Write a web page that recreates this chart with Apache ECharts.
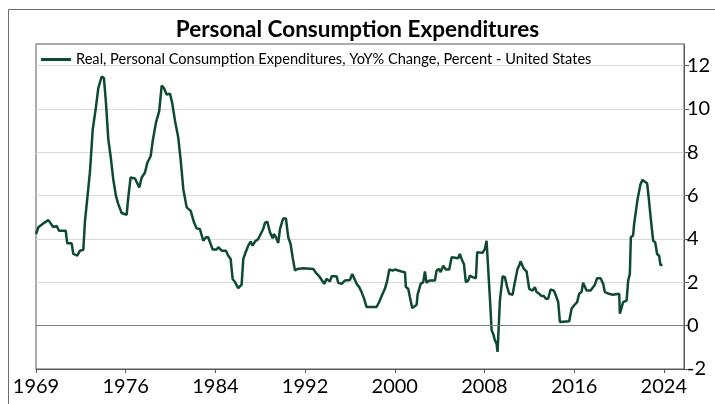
<!DOCTYPE html>
<html>
<head>
<meta charset="utf-8">
<script src="https://cdn.jsdelivr.net/npm/echarts@6/dist/echarts.min.js"></script>
<style>
  html, body { margin: 0; padding: 0; background: #fff; }
  #chart { width: 715px; height: 404px; }
</style>
</head>
<body>
<div id="chart"></div>
<script>
// x position in years (as placed on the axis), y = YoY % change
const dates = [
  1968.00, 1968.21, 1968.65, 1969.10, 1969.54, 1969.85, 1970.05, 1970.65, 1970.79, 1971.18,
  1971.33, 1971.68, 1971.92, 1972.22, 1972.37, 1972.57, 1972.82, 1973.06, 1973.32, 1973.56,
  1973.86, 1974.06, 1974.24, 1974.45, 1974.69, 1974.89, 1975.13, 1975.34, 1975.64, 1976.09,
  1976.23, 1976.44, 1976.83, 1977.21, 1977.43, 1977.72, 1977.93, 1978.23, 1978.41, 1978.70,
  1978.99, 1979.21, 1979.41, 1979.65, 1979.95, 1980.15, 1980.40, 1980.69, 1980.90, 1981.14,
  1981.44, 1981.80, 1982.09, 1982.33, 1982.62, 1982.92, 1983.16, 1983.36, 1983.52, 1983.76,
  1984.11, 1984.26, 1984.56, 1984.94, 1985.15, 1985.36, 1985.54, 1985.75, 1986.04, 1986.34,
  1986.49, 1986.70, 1986.93, 1987.15, 1987.32, 1987.53, 1987.82, 1988.04, 1988.27, 1988.42,
  1988.63, 1988.87, 1989.11, 1989.22, 1989.40, 1989.61, 1989.76, 1989.91, 1990.05, 1990.29,
  1990.50, 1990.71, 1990.89, 1991.10, 1991.30, 1991.84, 1992.73, 1992.97, 1993.26, 1993.57,
  1993.71, 1993.92, 1994.22, 1994.37, 1994.81, 1994.96, 1995.26, 1995.55, 1996.00, 1996.21,
  1996.36, 1996.60, 1996.83, 1997.04, 1997.25, 1997.49, 1998.38, 1998.61, 1998.83, 1999.12,
  1999.33, 1999.51, 1999.81, 2000.01, 2000.16, 2000.61, 2000.91, 2000.99, 2001.20, 2001.35,
  2001.56, 2001.95, 2002.04, 2002.31, 2002.54, 2002.69, 2002.84, 2003.07, 2003.58, 2003.73,
  2003.96, 2004.09, 2004.32, 2004.56, 2004.86, 2005.07, 2005.66, 2005.81, 2005.96, 2006.17,
  2006.34, 2006.55, 2006.70, 2006.94, 2007.24, 2007.35, 2007.83, 2008.04, 2008.19, 2008.33,
  2008.49, 2008.64, 2008.78, 2008.93, 2009.08, 2009.17, 2009.29, 2009.38, 2009.44, 2009.62,
  2009.82, 2010.03, 2010.21, 2010.51, 2010.63, 2010.80, 2010.95, 2011.10, 2011.22, 2011.37,
  2011.52, 2011.76, 2011.99, 2012.29, 2012.50, 2012.65, 2012.88, 2013.10, 2013.30, 2013.48,
  2013.68, 2013.90, 2014.19, 2014.37, 2014.58, 2014.73, 2015.56, 2015.77, 2015.98, 2016.27,
  2016.45, 2016.66, 2016.80, 2016.96, 2017.11, 2017.47, 2017.70, 2017.85, 2018.05, 2018.36,
  2018.59, 2018.74, 2019.12, 2019.43, 2020.02, 2020.08, 2020.23, 2020.37, 2020.68, 2020.82,
  2020.97, 2021.06, 2021.26, 2021.35, 2021.50, 2021.66, 2021.80, 2021.92, 2022.10, 2022.31,
  2022.51, 2022.66, 2022.84, 2023.05, 2023.23, 2023.40, 2023.58, 2023.70, 2023.88
];
const pceYoY = [
  4.23, 4.54, 4.72, 4.87, 4.55, 4.60, 4.38, 4.38, 3.80, 3.80,
  3.31, 3.23, 3.46, 3.50, 4.84, 5.84, 7.14, 9.06, 9.98, 10.97,
  11.50, 11.43, 10.28, 8.60, 7.68, 6.76, 5.99, 5.61, 5.20, 5.12,
  5.92, 6.84, 6.79, 6.38, 6.84, 7.07, 7.52, 7.83, 8.52, 9.37,
  9.90, 11.08, 10.97, 10.67, 10.71, 10.28, 9.45, 8.68, 7.68, 6.30,
  5.46, 5.30, 4.77, 4.49, 4.46, 3.92, 4.08, 4.08, 4.12, 3.51,
  3.51, 3.62, 3.46, 3.46, 3.23, 3.08, 2.16, 2.01, 1.73, 1.89,
  3.08, 3.39, 3.69, 3.88, 3.69, 3.88, 4.00, 4.23, 4.46, 4.74,
  4.80, 4.31, 4.03, 4.23, 4.08, 3.82, 4.46, 4.49, 4.95, 4.95,
  4.08, 3.77, 3.16, 2.54, 2.62, 2.65, 2.62, 2.44, 2.28, 2.04,
  1.93, 2.16, 2.04, 2.28, 2.28, 1.98, 1.93, 2.08, 2.11, 2.39,
  2.31, 1.93, 1.78, 1.55, 1.27, 0.86, 0.86, 1.09, 1.37, 1.70,
  2.08, 2.59, 2.54, 2.59, 2.54, 2.50, 2.47, 1.78, 1.70, 1.32,
  0.81, 0.97, 1.43, 1.93, 2.01, 2.50, 1.98, 2.08, 2.08, 2.54,
  2.62, 2.47, 2.77, 2.59, 2.59, 3.16, 3.11, 3.31, 3.08, 2.85,
  2.01, 2.08, 2.31, 2.24, 2.19, 3.39, 3.36, 3.54, 3.92, 3.92,
  1.24, -0.21, -0.37, -0.67, -0.83, -1.21, -1.21, 1.16, 1.16, 2.28,
  2.24, 1.78, 1.47, 1.43, 1.78, 1.78, 2.62, 2.77, 2.97, 2.93,
  2.62, 2.50, 1.70, 1.62, 1.78, 1.55, 1.47, 1.37, 1.37, 1.24,
  1.24, 1.67, 1.62, 1.39, 1.09, 0.17, 0.20, 0.78, 0.93, 1.09,
  1.47, 1.55, 1.98, 1.93, 1.62, 1.62, 1.78, 1.89, 2.19, 2.19,
  1.93, 1.55, 1.47, 1.43, 1.47, 0.55, 0.55, 1.09, 1.16, 2.08,
  2.39, 4.08, 4.16, 4.69, 4.69, 5.84, 5.87, 6.53, 6.73, 6.64,
  6.57, 5.87, 4.92, 3.92, 3.85, 3.31, 3.23, 2.80, 2.80
];
const xTickValues = [1968, 1976, 1984, 1992, 2000, 2008, 2016, 2024];
const xTickLabels = ['1969', '1976', '1984', '1992', '2000', '2008', '2016', '2024'];
const yTickValues = [-2, 0, 2, 4, 6, 8, 10, 12];

const seriesName = 'Real, Personal Consumption Expenditures, YoY% Change, Percent - United States';
const lineColor = '#0e4a2f';
const fontFam = 'Lato, "Liberation Sans", sans-serif';

const chart = echarts.init(document.getElementById('chart'), null, { renderer: 'canvas' });

const option = {
  backgroundColor: '#fff',
  animation: false,
  textStyle: { fontFamily: fontFam },
  graphic: [{
    type: 'rect',
    silent: true,
    shape: { x: 8.5, y: 9.5, width: 720, height: 400 },
    style: { fill: 'none', stroke: '#6e6e6e', lineWidth: 1 }
  }],
  title: {
    text: 'Personal Consumption Expenditures',
    left: 'center',
    top: 13,
    textStyle: { fontFamily: fontFam, fontSize: 22.5, fontWeight: 'bold', color: '#000' }
  },
  legend: {
    left: 36,
    top: 47,
    icon: 'rect',
    itemWidth: 30,
    itemHeight: 3,
    itemGap: 8,
    data: [seriesName],
    textStyle: { fontFamily: fontFam, fontSize: 14.6, color: '#000' }
  },
  grid: {
    left: 36, right: 31, top: 44, bottom: 35,
    show: true,
    borderColor: '#595959',
    borderWidth: 1
  },
  xAxis: {
    type: 'value',
    min: 1968,
    max: 2025.8,
    axisLine: { show: true, onZero: false, lineStyle: { color: '#595959' } },
    axisTick: { show: true, customValues: xTickValues, length: 4, lineStyle: { color: '#595959' } },
    axisLabel: {
      customValues: xTickValues,
      fontSize: 20,
      color: '#000',
      margin: 8,
      fontFamily: fontFam,
      formatter: (v) => xTickLabels[xTickValues.indexOf(v)]
    },
    splitLine: { show: false }
  },
  yAxis: {
    type: 'value',
    position: 'right',
    min: -2,
    max: 13,
    axisLine: { show: true, lineStyle: { color: '#595959' } },
    axisTick: { show: true, customValues: yTickValues, length: 5, lineStyle: { color: '#595959' } },
    axisLabel: {
      customValues: yTickValues,
      fontSize: 20,
      color: '#000',
      margin: 3,
      fontFamily: fontFam
    },
    splitLine: { show: true, lineStyle: { color: '#d9d9d9', width: 1 } }
  },
  series: [{
    name: seriesName,
    type: 'line',
    data: dates.map((d, i) => [d, pceYoY[i]]),
    showSymbol: false,
    lineStyle: { color: lineColor, width: 2.5 },
    itemStyle: { color: lineColor },
    markLine: {
      silent: true,
      symbol: 'none',
      label: { show: false },
      lineStyle: { color: '#7f7f7f', width: 1, type: 'solid' },
      data: [{ yAxis: 0 }]
    }
  }]
};

chart.setOption(option);
</script>
</body>
</html>
